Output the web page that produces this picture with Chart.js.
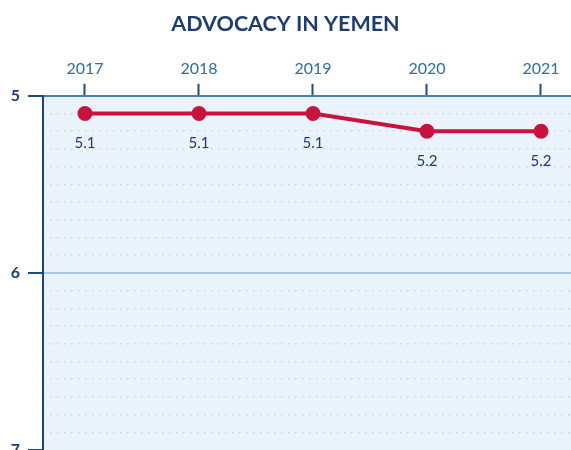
<!DOCTYPE html>
<html>
<head>
<meta charset="utf-8">
<script src="https://cdn.jsdelivr.net/npm/chart.js@4"></script>
<style>
  html, body { margin: 0; padding: 0; background: #fff; overflow: hidden; }
  #wrap { width: 571px; height: 470px; position: relative; }
</style>
</head>
<body>
<div id="wrap"><canvas id="grafico"></canvas></div>
<script>
// dados
const years = [2017, 2018, 2019, 2020, 2021]
const scores = [5.1, 5.1, 5.1, 5.2, 5.2]
const yTicks = [5, 6, 7]

const navy = '#1b3d72'
const red = '#c8143c'

// fundo azul claro da área do gráfico
const plotBg = {
  id: 'plotBg',
  beforeDraw(chart) {
    const { ctx, chartArea: a } = chart
    ctx.save()
    ctx.fillStyle = '#eaf2fb'
    ctx.fillRect(a.left, a.top, a.right - a.left, a.bottom - a.top)
    ctx.restore()
  }
}

// rótulos de valor abaixo dos pontos
const valueLabels = {
  id: 'valueLabels',
  afterDatasetsDraw(chart) {
    const ctx = chart.ctx
    const meta = chart.getDatasetMeta(0)
    ctx.save()
    ctx.font = '15px Lato'
    ctx.fillStyle = navy
    ctx.textAlign = 'center'
    ctx.textBaseline = 'middle'
    meta.data.forEach((p, i) => {
      ctx.fillText(scores[i].toFixed(1), p.x, p.y + 30)
    })
    ctx.restore()
  }
}

const data = {
  datasets: [{
    data: years.map((y, i) => ({ x: y, y: scores[i] })),
    borderColor: red,
    backgroundColor: red,
    borderWidth: 4,
    pointRadius: 7.5,
    pointBackgroundColor: red,
    pointBorderWidth: 0,
    clip: false
  }]
}

const isInt = v => Math.abs(v - Math.round(v)) < 1e-6

const config = {
  type: 'line',
  data,
  options: {
    responsive: true,
    maintainAspectRatio: false,
    animation: false,
    layout: { autoPadding: false, padding: { left: 0, right: 0, top: 0, bottom: 20 } },
    plugins: {
      legend: { display: false },
      tooltip: { enabled: false },
      title: {
        display: true,
        text: 'ADVOCACY IN YEMEN',
        color: navy,
        font: { family: 'Lato', size: 21.5, weight: 'bold' },
        padding: { top: 11, bottom: 8 }
      }
    },
    scales: {
      x: {
        type: 'linear',
        position: 'top',
        min: 2016.6316,
        max: 2021.2632,
        afterBuildTicks: scale => { scale.ticks = years.map(v => ({ value: v })) },
        afterFit: scale => {
          scale.height = 51
          scale.paddingLeft = 0
          scale.paddingRight = 0
        },
        ticks: {
          color: '#2f6e9e',
          font: { family: 'Lato', size: 16 },
          padding: 5,
          callback: v => String(v)
        },
        grid: {
          drawOnChartArea: false,
          tickLength: 12,
          tickColor: '#1f4e79',
          tickWidth: 2
        },
        border: { color: '#4a80b0', width: 2 }
      },
      y: {
        position: 'left',
        reverse: true,
        min: 5,
        max: 7,
        afterBuildTicks: scale => { scale.ticks = yTicks.map(v => ({ value: v })) },
        afterFit: scale => { scale.width = 43 },
        ticks: {
          color: navy,
          font: { family: 'Lato', size: 16, weight: 'bold' },
          padding: 8
        },
        grid: {
          color: c => (c.tick && c.tick.value === 6) ? '#a7c8e5' : 'rgba(0,0,0,0)',
          lineWidth: 2,
          tickLength: 15,
          tickColor: '#1f4e79',
          tickWidth: 2
        },
        border: { color: '#1d4575', width: 2 }
      },
      y2: {
        position: 'left',
        reverse: true,
        min: 5,
        max: 7,
        afterFit: scale => { scale.width = 0 },
        ticks: { display: false, stepSize: 0.1, maxTicksLimit: 40 },
        grid: {
          drawTicks: false,
          color: c => (c.tick && isInt(c.tick.value)) ? 'rgba(0,0,0,0)' : '#c6d3e0',
          lineWidth: 1.5
        },
        border: { display: false, dash: [1.5, 5.5] }
      }
    }
  },
  plugins: [plotBg, valueLabels]
}

const graph = new Chart(document.getElementById('grafico'), config)
</script>
</body>
</html>
